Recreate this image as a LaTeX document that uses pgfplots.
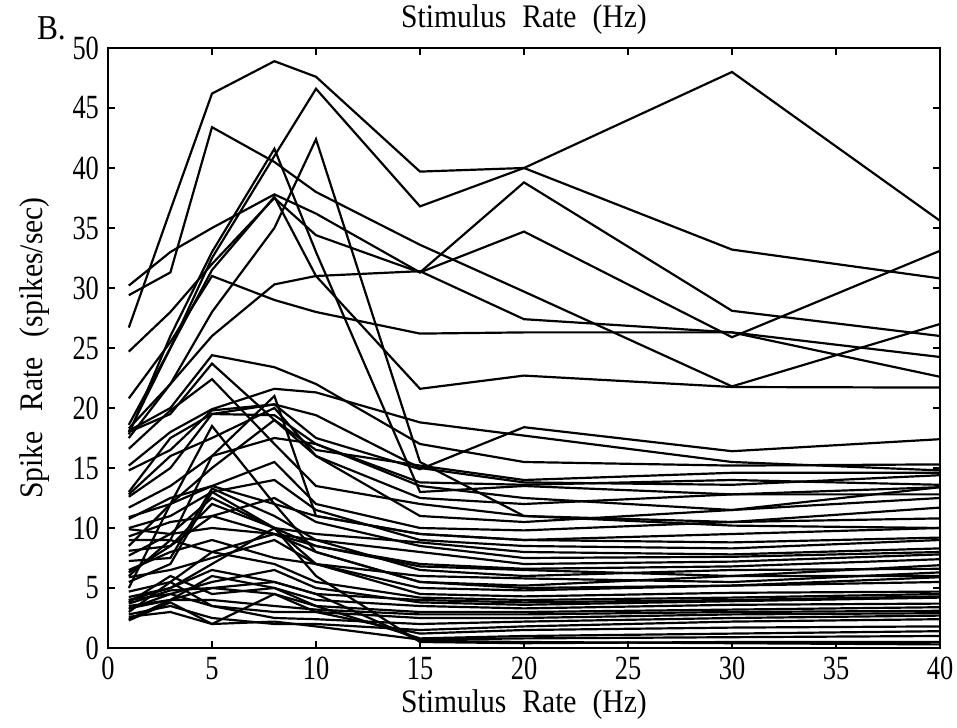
\documentclass[border=0pt]{standalone}
\usepackage{fontspec}
\setmainfont{Liberation Serif}
\newfontfamily\tickfont[FakeStretch=0.78]{Liberation Serif}
\newfontfamily\labfont[FakeStretch=0.9]{Liberation Serif}
\usepackage{pgfplots}
\pgfplotsset{compat=1.18}
\newcommand{\wsp}{\hspace{8bp}}
\newcommand{\ysp}{\hspace{10bp}}
\begin{document}
\begin{tikzpicture}
\begin{axis}[
  scale only axis, width=416bp, height=300bp,
  xmin=0, xmax=40, ymin=0, ymax=50,
  xtick={0,5,...,40}, ytick={0,5,...,50},
  tick align=inside, major tick length=3.5bp,
  tick style={black, line width=0.9pt},
  axis line style={line width=1.1pt},
  /pgf/number format/assume math mode=true,
  ticklabel style={font=\tickfont\fontsize{17}{18}\selectfont},
  xticklabel style={yshift=-1bp},
  yticklabel style={xshift=-1bp},
  every axis x label/.style={at={(axis description cs:0.5,-0.095)}, anchor=center},
  every axis y label/.style={at={(axis description cs:-0.088,0.5)}, rotate=90, anchor=center},
  every axis title/.style={at={(axis description cs:0.5,1.048)}, anchor=center},
  label style={font=\labfont\fontsize{16.5}{18}\selectfont},
  title style={font=\labfont\fontsize{16.5}{18}\selectfont},
  xlabel={Stimulus\wsp Rate\wsp (Hz)},
  ylabel={Spike\ysp Rate\ysp (spikes/sec)},
  title={Stimulus\wsp Rate\wsp (Hz)},
  every axis plot/.append style={black, line width=1.1pt, mark=none},
  cycle list={{black}},
  clip=false,
]
\coordinate (bl) at (rel axis cs:0,0);
\coordinate (tr) at (rel axis cs:1,1);
% upper lines
\addplot coordinates {(1,26.7)(3,36.5)(5,46.2)(8,48.9)(10,47.6)(15,39.7)(20,40.0)(30,33.2)(40,30.8)};
\addplot coordinates {(1,18.0)(3,25.0)(5,32.5)(8,41.0)(10,46.6)(15,36.8)(20,40.0)(30,48.0)(40,35.6)};
\addplot coordinates {(1,29.4)(3,31.3)(5,43.4)(8,40.5)(10,38.0)(15,33.6)(20,29.7)(30,21.8)(40,27.0)};
\addplot coordinates {(1,30.2)(3,33.0)(5,35.0)(8,37.8)(10,36.2)(15,31.3)(20,38.8)(30,28.1)(40,26.0)};
\addplot coordinates {(1,24.7)(3,28.0)(5,32.0)(8,37.5)(10,34.4)(15,31.3)(20,34.7)(30,25.9)(40,33.1)};
\addplot coordinates {(1,18.3)(3,22.0)(5,26.0)(8,30.3)(10,31.0)(15,31.4)(20,27.4)(30,26.3)(40,24.25)};
\addplot coordinates {(1,20.8)(3,25.5)(5,31.0)(8,29.0)(10,28.0)(15,26.2)(20,26.3)(30,26.3)(40,22.6)};
\addplot coordinates {(1,18.6)(3,25.0)(5,31.5)(8,37.6)(10,31.0)(15,21.6)(20,22.7)(30,21.75)(40,21.7)};
\addplot coordinates {(1,17.8)(3,26.0)(5,33.0)(8,41.6)(10,33.0)(15,13.0)(20,13.5)(30,12.8)(40,13.4)};
\addplot coordinates {(1,17.5)(3,22.0)(5,28.0)(8,35.0)(10,42.4)(15,15.5)(20,11.0)(30,10.5)(40,10.8)};
% medium lines
\addplot coordinates {(1,18.1)(3,20.0)(5,24.4)(8,23.4)(10,22.0)(15,17.0)(20,15.5)(30,15.2)(40,15.3)};
\addplot coordinates {(1,18.0)(3,19.5)(5,23.7)(8,19.0)(10,16.5)(15,15.2)(20,14.0)(30,14.6)(40,14.6)};
\addplot coordinates {(1,16.6)(3,19.8)(5,22.4)(8,17.0)(10,13.5)(15,12.0)(20,11.0)(30,10.2)(40,10.0)};
\addplot coordinates {(1,12.6)(3,15.0)(5,19.5)(8,20.3)(10,17.5)(15,14.9)(20,18.4)(30,16.4)(40,17.4)};
\addplot coordinates {(1,15.2)(3,18.0)(5,19.9)(8,21.6)(10,21.3)(15,18.8)(20,17.7)(30,15.5)(40,14.8)};
\addplot coordinates {(1,14.8)(3,16.5)(5,19.8)(8,20.3)(10,19.4)(15,15.0)(20,13.8)(30,13.6)(40,14.4)};
\addplot coordinates {(1,13.0)(3,17.5)(5,19.5)(8,19.4)(10,17.0)(15,13.8)(20,13.6)(30,14.0)(40,13.6)};
\addplot coordinates {(1,12.8)(3,16.0)(5,17.5)(8,20.0)(10,16.0)(15,12.5)(20,12.0)(30,12.8)(40,12.8)};
\addplot coordinates {(1,11.7)(3,13.5)(5,16.0)(8,17.5)(10,17.0)(15,13.5)(20,12.5)(30,11.5)(40,12.5)};
\addplot coordinates {(1,10.9)(3,12.0)(5,13.5)(8,15.5)(10,12.0)(15,10.0)(20,9.8)(30,10.5)(40,11.7)};
% lower lines
\addplot coordinates {(1,10.75)(3,12.5)(5,13.5)(8,12.0)(10,11.0)(15,9.5)(20,9.0)(30,8.8)(40,9.2)};
\addplot coordinates {(1,10.0)(3,11.0)(5,13.0)(8,14.0)(10,11.5)(15,9.0)(20,8.5)(30,8.3)(40,9.0)};
\addplot coordinates {(1,9.9)(3,9.5)(5,12.5)(8,10.0)(10,9.5)(15,8.8)(20,8.0)(30,7.8)(40,8.3)};
\addplot coordinates {(1,9.3)(3,10.5)(5,11.0)(8,12.5)(10,10.5)(15,8.5)(20,7.5)(30,7.6)(40,8.0)};
\addplot coordinates {(1,9.0)(3,9.0)(5,8.0)(8,9.5)(10,9.0)(15,8.0)(20,7.0)(30,7.2)(40,7.8)};
\addplot coordinates {(1,8.1)(3,8.5)(5,12.0)(8,10.0)(10,8.5)(15,7.0)(20,6.6)(30,6.8)(40,7.4)};
\addplot coordinates {(1,7.7)(3,9.5)(5,10.0)(8,9.5)(10,8.5)(15,6.8)(20,6.5)(30,6.0)(40,6.9)};
\addplot coordinates {(1,7.25)(3,7.5)(5,13.3)(8,11.0)(10,9.0)(15,6.5)(20,6.0)(30,6.5)(40,6.6)};
\addplot coordinates {(1,6.5)(3,8.0)(5,9.0)(8,7.5)(10,7.0)(15,6.0)(20,5.8)(30,5.5)(40,6.3)};
\addplot coordinates {(1,6.3)(3,8.5)(5,11.0)(8,9.5)(10,8.0)(15,5.5)(20,5.2)(30,6.0)(40,6.0)};
\addplot coordinates {(1,5.9)(3,6.5)(5,7.5)(8,9.0)(10,7.0)(15,5.0)(20,4.8)(30,5.2)(40,5.9)};
\addplot coordinates {(1,5.5)(3,7.0)(5,13.0)(8,10.0)(10,7.0)(15,4.5)(20,4.3)(30,4.6)(40,4.7)};
\addplot coordinates {(1,4.7)(3,5.5)(5,8.0)(8,7.0)(10,5.5)(15,4.2)(20,4.0)(30,4.2)(40,4.5)};
\addplot coordinates {(1,4.25)(3,5.0)(5,6.5)(8,5.5)(10,4.5)(15,4.0)(20,3.8)(30,4.0)(40,4.3)};
\addplot coordinates {(1,4.0)(3,4.5)(5,5.5)(8,6.5)(10,5.0)(15,3.8)(20,3.6)(30,3.9)(40,4.2)};
\addplot coordinates {(1,3.8)(3,6.0)(5,4.5)(8,5.0)(10,4.0)(15,3.5)(20,3.3)(30,3.6)(40,3.7)};
\addplot coordinates {(1,3.7)(3,4.8)(5,5.0)(8,4.5)(10,3.5)(15,3.0)(20,3.0)(30,3.2)(40,3.4)};
\addplot coordinates {(1,3.5)(3,4.0)(5,4.0)(8,3.5)(10,3.2)(15,2.8)(20,2.8)(30,3.0)(40,3.1)};
\addplot coordinates {(1,3.25)(3,4.5)(5,3.5)(8,3.0)(10,3.0)(15,2.5)(20,2.5)(30,2.8)(40,2.9)};
\addplot coordinates {(1,3.0)(3,5.5)(5,3.5)(8,2.5)(10,2.4)(15,2.0)(20,2.2)(30,2.5)(40,2.7)};
\addplot coordinates {(1,2.8)(3,3.5)(5,2.5)(8,2.0)(10,2.0)(15,1.5)(20,1.8)(30,2.2)(40,2.4)};
\addplot coordinates {(1,2.6)(3,3.0)(5,2.0)(8,4.5)(10,3.0)(15,1.2)(20,1.5)(30,1.7)(40,1.8)};
\addplot coordinates {(1,2.4)(3,4.0)(5,6.0)(8,5.0)(10,3.5)(15,0.8)(20,1.0)(30,1.2)(40,1.4)};
\addplot coordinates {(1,2.3)(3,3.8)(5,2.0)(8,2.2)(10,1.8)(15,0.7)(20,0.8)(30,0.9)(40,1.0)};
\addplot coordinates {(1,4.0)(3,5.0)(5,7.0)(8,10.0)(10,6.0)(15,0.5)(20,0.4)(30,0.5)(40,0.5)};
\addplot coordinates {(1,3.3)(3,4.0)(5,5.0)(8,5.5)(10,4.5)(15,0.6)(20,0.5)(30,0.4)(40,0.3)};
\addplot coordinates {(1,5.0)(3,12.0)(5,18.5)(8,12.0)(10,8.0)(15,5.5)(20,5.0)(30,5.2)(40,5.5)};
\addplot coordinates {(1,6.0)(3,9.0)(5,16.0)(8,21.0)(10,11.0)(15,9.5)(20,9.0)(30,9.5)(40,10.0)};
\addplot coordinates {(1,8.5)(3,12.0)(5,15.0)(8,19.0)(10,16.0)(15,11.0)(20,10.5)(30,11.5)(40,13.4)};
\node[font=\labfont\fontsize{17.5}{19}\selectfont] at (axis description cs:-0.068,1.033) {B.};
\end{axis}
\pgfresetboundingbox
\path ([xshift=-54bp,yshift=-40bp]bl) rectangle ([xshift=8.5bp,yshift=24bp]tr);
\end{tikzpicture}
\end{document}
